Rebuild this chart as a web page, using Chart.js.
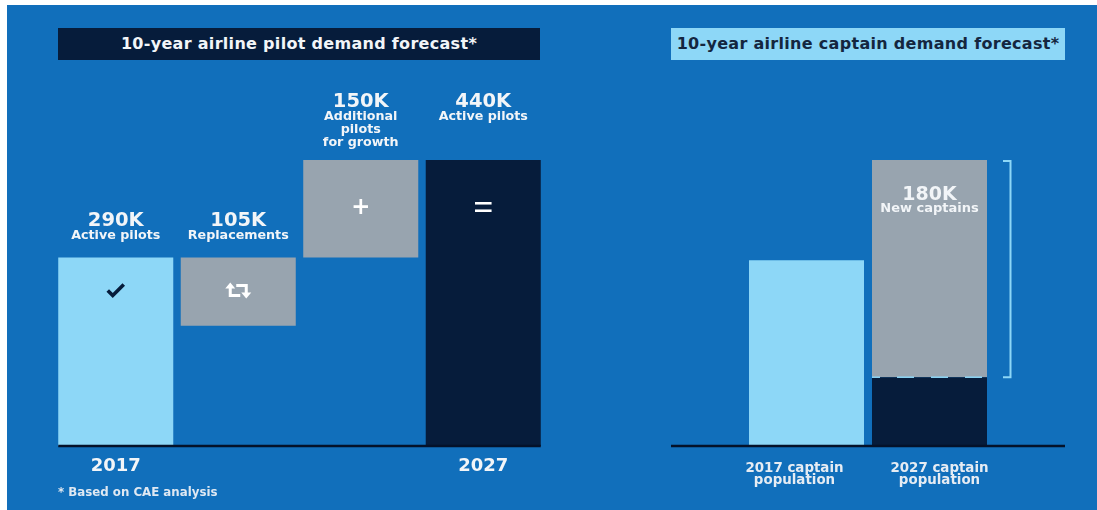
<!DOCTYPE html>
<html>
<head>
<meta charset="utf-8">
<title>Airline pilot and captain demand forecast</title>
<script src="https://cdn.jsdelivr.net/npm/chart.js@4"></script>
<style>
  html, body { margin: 0; padding: 0; background: #fff; }
  #panel { position: absolute; left: 7px; top: 5px; width: 1090px; height: 505px; background: #116fbb; }
  canvas { position: absolute; top: 0; }
  #pilotChart { left: 0; }
  #captainChart { left: 600px; }
  .band {
    position: absolute; top: 28px; height: 32px; text-align: center;
    font: bold 16px/32px "DejaVu Sans", sans-serif; letter-spacing: 0.3px;
  }
  #pilotTitle { left: 58px; width: 482px; background: #061c3b; color: #f2f5f8; }
  #captainTitle { left: 671px; width: 394px; background: #8dd7f7; color: #14263f; }
  #note {
    position: absolute; left: 58px; top: 485px;
    font: bold 11.8px/14px "DejaVu Sans", sans-serif; color: #dfe8f2;
  }
</style>
</head>
<body>
<div id="panel"></div>
<canvas id="pilotChart" width="600" height="510"></canvas>
<canvas id="captainChart" width="497" height="510"></canvas>
<div class="band" id="pilotTitle">10-year airline pilot demand forecast*</div>
<div class="band" id="captainTitle">10-year airline captain demand forecast*</div>
<div id="note">* Based on CAE analysis</div>

<script>
// Pilot demand, thousands
const pilotYears = ['2017', '', '', '2027'];
const pilotValues = [290, 105, 150, 440];
const pilotStarts = [0, 185, 290, 0];
const pilotNotes = [['Active pilots'], ['Replacements'], ['Additional', 'pilots', 'for growth'], ['Active pilots']];

// Captain demand, thousands
const captainGroups = [['2017 captain', 'population'], ['2027 captain', 'population']];
const captainExisting = [154, 57];
const captainNew = [0, 180];
const captainNewNote = 'New captains';

const NAVY = '#061c3b';
const SKY = '#8dd7f7';
const GREY = '#98a4af';
const INK = '#f2f5f8';
const FONT = '"DejaVu Sans", sans-serif';

function drawBaseline(ctx, y, x0, x1) {
  ctx.save();
  ctx.strokeStyle = '#04122a';
  ctx.lineWidth = 2.5;
  ctx.beginPath();
  ctx.moveTo(x0, y);
  ctx.lineTo(x1, y);
  ctx.stroke();
  ctx.restore();
}

function drawLines(ctx, lines, x, y, step) {
  lines.forEach((line, i) => ctx.fillText(line, x, y + i * step));
}

function drawTick(ctx, x, y) {
  ctx.save();
  ctx.strokeStyle = NAVY;
  ctx.lineWidth = 3.6;
  ctx.beginPath();
  ctx.moveTo(x - 8, y);
  ctx.lineTo(x - 3, y + 5);
  ctx.lineTo(x + 8, y - 6);
  ctx.stroke();
  ctx.restore();
}

// two opposing arrows for the replacements bar
function drawSwap(ctx, x, y) {
  ctx.save();
  ctx.strokeStyle = '#ffffff';
  ctx.fillStyle = '#ffffff';
  ctx.lineWidth = 3;
  ctx.beginPath();
  ctx.moveTo(x + 2, y + 5);
  ctx.lineTo(x - 8, y + 5);
  ctx.lineTo(x - 8, y - 4);
  ctx.moveTo(x - 2, y - 5);
  ctx.lineTo(x + 8, y - 5);
  ctx.lineTo(x + 8, y + 4);
  ctx.stroke();
  ctx.beginPath();
  ctx.moveTo(x - 13, y - 2);
  ctx.lineTo(x - 8, y - 8);
  ctx.lineTo(x - 3, y - 2);
  ctx.moveTo(x + 3, y + 2);
  ctx.lineTo(x + 8, y + 8);
  ctx.lineTo(x + 13, y + 2);
  ctx.fill();
  ctx.restore();
}

const pilotDecor = {
  id: 'pilotDecor',
  afterDatasetsDraw(chart) {
    const ctx = chart.ctx;
    const bars = chart.getDatasetMeta(0).data;
    const lifts = [37, 37, 58, 58];

    drawBaseline(ctx, chart.chartArea.bottom, bars[0].x - bars[0].width / 2, bars[3].x + bars[3].width / 2);

    ctx.save();
    ctx.textAlign = 'center';
    ctx.textBaseline = 'middle';
    bars.forEach((bar, i) => {
      ctx.fillStyle = INK;
      ctx.font = 'bold 19.5px ' + FONT;
      ctx.fillText(pilotValues[i] + 'K', bar.x, bar.y - lifts[i]);
      ctx.font = 'bold 12.7px ' + FONT;
      drawLines(ctx, pilotNotes[i], bar.x, bar.y - lifts[i] + 15, 13);
    });

    drawTick(ctx, bars[0].x, bars[0].y + 33);
    drawSwap(ctx, bars[1].x, bars[1].y + 33);
    ctx.fillStyle = '#ffffff';
    ctx.font = '600 30px "Open Sans", sans-serif';
    ctx.fillText('+', bars[2].x, bars[2].y + 48);
    ctx.font = '400 36px "Open Sans", sans-serif';
    ctx.fillText('=', bars[3].x, bars[3].y + 50);
    ctx.restore();
  }
};

new Chart(document.getElementById('pilotChart'), {
  type: 'bar',
  data: {
    labels: pilotYears,
    datasets: [{
      data: pilotValues.map((v, i) => [pilotStarts[i], pilotStarts[i] + v]),
      backgroundColor: [SKY, GREY, GREY, NAVY],
      borderWidth: 0,
      barPercentage: 0.939,
      categoryPercentage: 1
    }]
  },
  options: {
    responsive: false,
    animation: false,
    layout: { padding: { left: 54.5, right: 55.5, top: 160, bottom: 0 } },
    plugins: { legend: { display: false }, tooltip: { enabled: false } },
    scales: {
      x: {
        grid: { display: false, drawTicks: false },
        border: { display: false },
        afterFit(axis) { axis.height = 64; },
        ticks: {
          autoSkip: false,
          maxRotation: 0,
          padding: 10,
          color: INK,
          font: { family: FONT, size: 18, weight: 'bold' }
        }
      },
      y: { display: false, min: 0, max: 440 }
    }
  },
  plugins: [pilotDecor]
});

const captainDecor = {
  id: 'captainDecor',
  afterDatasetsDraw(chart) {
    const ctx = chart.ctx;
    const base = chart.getDatasetMeta(0).data;
    const extra = chart.getDatasetMeta(1).data[1];
    const left = extra.x - extra.width / 2;
    const right = extra.x + extra.width / 2;
    const bottom = chart.chartArea.bottom;

    drawBaseline(ctx, bottom, 71, 465);

    // dashed join between existing and new captains
    ctx.save();
    ctx.strokeStyle = SKY;
    ctx.lineWidth = 1.5;
    ctx.setLineDash([17, 17]);
    ctx.lineDashOffset = 9;
    ctx.beginPath();
    ctx.moveTo(left, extra.base);
    ctx.lineTo(right, extra.base);
    ctx.stroke();
    ctx.restore();

    // bracket spanning the new captains segment
    ctx.save();
    ctx.strokeStyle = SKY;
    ctx.lineWidth = 2;
    ctx.beginPath();
    ctx.moveTo(right + 16, extra.y + 1);
    ctx.lineTo(right + 23.5, extra.y + 1);
    ctx.lineTo(right + 23.5, extra.base);
    ctx.lineTo(right + 16, extra.base);
    ctx.stroke();
    ctx.restore();

    ctx.save();
    ctx.textAlign = 'center';
    ctx.textBaseline = 'middle';
    ctx.fillStyle = INK;
    ctx.font = 'bold 19px ' + FONT;
    ctx.fillText(captainNew[1] + 'K', extra.x, extra.y + 35);
    ctx.font = 'bold 13px ' + FONT;
    ctx.fillText(captainNewNote, extra.x, extra.y + 49);

    // group names sit slightly outside the bar centres
    ctx.fillStyle = '#e6ecf3';
    ctx.font = 'bold 13.4px ' + FONT;
    drawLines(ctx, captainGroups[0], base[0].x - 12, bottom + 23, 12);
    drawLines(ctx, captainGroups[1], base[1].x + 10, bottom + 23, 12);
    ctx.restore();
  }
};

new Chart(document.getElementById('captainChart'), {
  type: 'bar',
  data: {
    labels: captainGroups,
    datasets: [
      { data: captainExisting, backgroundColor: [SKY, NAVY], borderWidth: 0, barPercentage: 0.935, categoryPercentage: 1 },
      { data: captainNew, backgroundColor: GREY, borderWidth: 0, barPercentage: 0.935, categoryPercentage: 1 }
    ]
  },
  options: {
    responsive: false,
    animation: false,
    layout: { padding: { left: 145, right: 106, top: 160, bottom: 0 } },
    plugins: { legend: { display: false }, tooltip: { enabled: false } },
    scales: {
      x: {
        stacked: true,
        grid: { display: false, drawTicks: false },
        border: { display: false },
        afterFit(axis) { axis.height = 64; },
        ticks: { display: false }
      },
      y: { display: false, stacked: true, min: 0, max: 237 }
    }
  },
  plugins: [captainDecor]
});
</script>
</body>
</html>
